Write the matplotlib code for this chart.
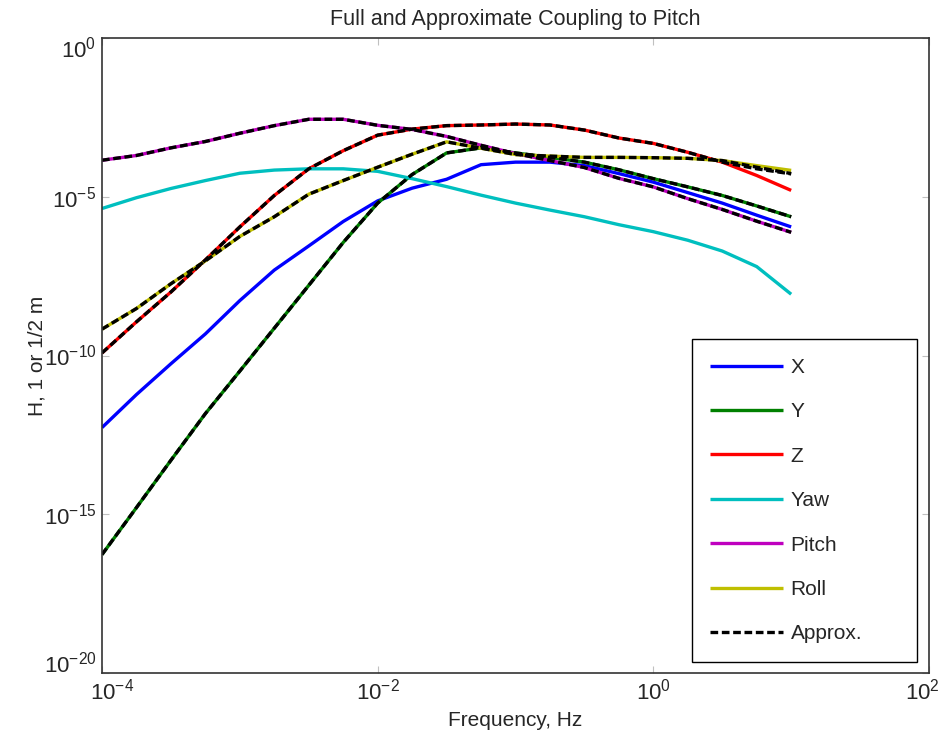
import numpy as np
import matplotlib
matplotlib.use("Agg")
import matplotlib.pyplot as plt
import matplotlib.transforms as mtransforms
from matplotlib.ticker import FixedLocator, FixedFormatter, NullLocator

plt.rcParams['font.family'] = ['Liberation Sans', 'DejaVu Sans']
plt.rcParams['mathtext.default'] = 'regular'

# log10 of frequency (Hz)
log_freq = [-4, -3.75, -3.5, -3.25, -3, -2.75, -2.5, -2.25, -2, -1.75, -1.5,
            -1.25, -1, -0.75, -0.5, -0.25, 0, 0.25, 0.5, 0.75, 1]

# log10 of H for each degree of freedom
log_x = [-12.27, -11.23, -10.26, -9.32, -8.27, -7.31, -6.55, -5.78, -5.13, -4.73, -4.45,
         -3.99, -3.91, -3.91, -4.02, -4.27, -4.54, -4.87, -5.20, -5.58, -5.95]
log_y = [-16.27, -14.79, -13.30, -11.83, -10.49, -9.14, -7.79, -6.44, -5.20, -4.30, -3.62,
         -3.46, -3.62, -3.76, -3.91, -4.15, -4.43, -4.69, -4.96, -5.29, -5.63]
log_z = [-9.92, -8.94, -8.00, -6.99, -5.95, -4.96, -4.12, -3.55, -3.06, -2.87, -2.76,
         -2.74, -2.71, -2.74, -2.90, -3.15, -3.32, -3.60, -3.91, -4.33, -4.80]
log_yaw = [-5.37, -5.03, -4.74, -4.49, -4.26, -4.16, -4.12, -4.12, -4.20, -4.43, -4.68,
           -4.95, -5.20, -5.42, -5.63, -5.88, -6.10, -6.37, -6.71, -7.20, -8.07]
log_pitch = [-3.85, -3.70, -3.46, -3.26, -3.00, -2.76, -2.56, -2.56, -2.75, -2.88, -3.10,
             -3.38, -3.64, -3.86, -4.08, -4.42, -4.69, -5.06, -5.40, -5.77, -6.12]
log_roll = [-9.17, -8.52, -7.74, -7.02, -6.25, -5.63, -4.92, -4.49, -4.07, -3.66, -3.27,
            -3.47, -3.67, -3.72, -3.76, -3.76, -3.77, -3.79, -3.86, -4.02, -4.17]

# approximations (black dashed)
log_approx_y = log_y
log_approx_z = [-9.92, -8.94, -8.00, -6.99, -5.95, -4.96, -4.12, -3.55, -3.06, -2.87, -2.76,
                -2.74, -2.71, -2.74, -2.90, -3.15, -3.32, -3.60, -3.91, -4.12, -4.28]
log_approx_pitch = log_pitch
log_approx_roll = [-9.17, -8.52, -7.74, -7.02, -6.25, -5.63, -4.92, -4.49, -4.07, -3.66, -3.27,
                   -3.47, -3.67, -3.72, -3.76, -3.76, -3.77, -3.79, -3.86, -4.07, -4.27]

series_names = ["X", "Y", "Z", "Yaw", "Pitch", "Roll"]
series_colors = ["#0000ff", "#008000", "#ff0000", "#00bfbf", "#bf00bf", "#bfbf00"]

xticks = [1e-4, 1e-2, 1e0, 1e2]
xtick_labels = [r"$10^{-4}$", r"$10^{-2}$", r"$10^{0}$", r"$10^{2}$"]
yticks = [1e-20, 1e-15, 1e-10, 1e-5, 1e0]
ytick_labels = [r"$10^{-20}$", r"$10^{-15}$", r"$10^{-10}$", r"$10^{-5}$", r"$10^{0}$"]

fig = plt.figure(figsize=(9.45, 7.36), dpi=100)
ax = fig.add_axes([102/945, 1 - 673/736, 827/945, 635/736])

f = 10.0 ** np.array(log_freq)
all_series = [log_x, log_y, log_z, log_yaw, log_pitch, log_roll]
lw = 2.4
for name, col, s in zip(series_names, series_colors, all_series):
    ax.plot(f, 10.0 ** np.array(s), color=col, lw=lw, label=name, solid_capstyle='butt')

approx = [log_approx_y, log_approx_z, log_approx_pitch, log_approx_roll]
for i, s in enumerate(approx):
    ax.plot(f, 10.0 ** np.array(s), color='black', lw=lw, linestyle=(0, (2.3, 1.1)),
            label="Approx." if i == 0 else None)

ax.set_xscale('log')
ax.set_yscale('log')
ax.set_xlim(1e-4, 1e2)
ax.set_ylim(1e-20, 1e0)

ax.xaxis.set_major_locator(FixedLocator(xticks))
ax.xaxis.set_major_formatter(FixedFormatter(xtick_labels))
ax.yaxis.set_major_locator(FixedLocator(yticks))
ax.yaxis.set_major_formatter(FixedFormatter(ytick_labels))
ax.xaxis.set_minor_locator(NullLocator())
ax.yaxis.set_minor_locator(NullLocator())
ax.tick_params(direction='in', length=5, width=0.8, color='#c0c0c0',
               labelsize=16, labelcolor='#262626', top=True, right=True, pad=4)
for sp in ax.spines.values():
    sp.set_color('#333333')
    sp.set_linewidth(1.2)

ax.set_title("Full and Approximate Coupling to Pitch", fontsize=15.5, color='#262626', pad=9)
ax.set_xlabel("Frequency, Hz", fontsize=15, color='#262626', labelpad=5)
ax.set_ylabel("H, 1 or 1/2 m", fontsize=15, color='#262626', labelpad=-2)

leg = ax.legend(loc='lower left', bbox_to_anchor=(0.713, 0.017, 0.272, 0.511), mode='expand',
                fontsize=15, handlelength=3.5, handletextpad=0.35, labelspacing=1.22,
                borderpad=0.9, fancybox=False, framealpha=1, edgecolor='black',
                borderaxespad=0)
leg.get_frame().set_linewidth(1.0)
for t in leg.get_texts():
    t.set_color('#262626')

# keep the end tick labels inside the axes extent (MATLAB style)
fig.canvas.draw()
def shift(label, dx_px, dy_px):
    off = mtransforms.ScaledTranslation(dx_px / 100.0, dy_px / 100.0, fig.dpi_scale_trans)
    label.set_transform(label.get_transform() + off)

yt = ax.yaxis.get_major_ticks()
shift(yt[0].label1, 0, 11)    # 10^-20 up
shift(yt[-1].label1, 0, -9)   # 10^0 down
xt = ax.xaxis.get_major_ticks()
shift(xt[0].label1, 10, 0)    # 10^-4 right
shift(xt[-1].label1, -7, 0)   # 10^2 left

fig.savefig("out.png", dpi=100)
